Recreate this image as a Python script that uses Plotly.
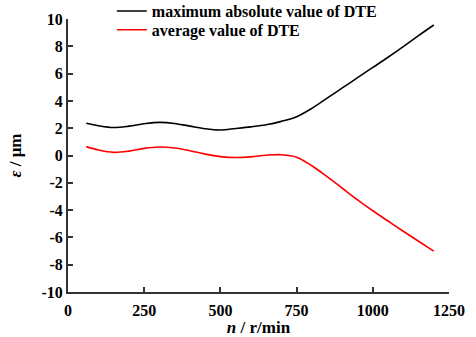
import plotly.graph_objects as go

speed = [60, 100, 150, 200, 250, 300, 350, 400, 450, 500, 550, 600, 650, 700,
         750, 800, 850, 900, 950, 1000, 1050, 1100, 1150, 1200]
dte_max = [2.36, 2.18, 2.05, 2.15, 2.33, 2.43, 2.35, 2.15, 1.96, 1.87, 1.98, 2.1,
           2.25, 2.5, 2.84, 3.45, 4.2, 4.95, 5.7, 6.45, 7.2, 7.98, 8.78, 9.56]
dte_avg = [0.65, 0.4, 0.23, 0.32, 0.52, 0.62, 0.55, 0.35, 0.1, -0.08, -0.15, -0.1,
           0.02, 0.06, -0.12, -0.75, -1.55, -2.4, -3.25, -4.05, -4.8, -5.55, -6.28, -7.0]
x_ticks = [0, 250, 500, 750, 1000, 1250]
y_ticks = [-10, -8, -6, -4, -2, 0, 2, 4, 6, 8, 10]

font = "Liberation Serif"

fig = go.Figure()
fig.add_trace(go.Scatter(x=speed, y=dte_max, mode="lines",
                         line=dict(color="black", width=1.6, shape="spline"),
                         name="<b>maximum absolute value of DTE</b>", legend="legend"))
fig.add_trace(go.Scatter(x=speed, y=dte_avg, mode="lines",
                         line=dict(color="red", width=1.6, shape="spline"),
                         name="<b>average value of DTE</b>", legend="legend2"))

axis_common = dict(showgrid=False, zeroline=False, showline=True, linecolor="#333",
                   linewidth=2, ticks="inside", ticklen=5, tickwidth=1.5, tickcolor="#333",
                   tickfont=dict(family=font, size=16, color="black"))

leg_common = dict(x=0.115, xanchor="left", yanchor="middle", bgcolor="rgba(0,0,0,0)",
                  font=dict(family=font, size=16), itemwidth=30)

fig.update_layout(
    width=476, height=337,
    margin=dict(l=68, r=27, t=19, b=45, autoexpand=False),
    plot_bgcolor="white", paper_bgcolor="white",
    font=dict(family=font, size=16, color="black"),
    showlegend=True,
    legend=dict(y=1.029, **leg_common),
    legend2=dict(y=0.96, **leg_common),
    xaxis=dict(range=[0, 1250], tickvals=x_ticks,
               ticktext=[f"<b>{v}</b>" for v in x_ticks], ticklabelstandoff=3,
               title=dict(text="<b><i>n</i> / r/min</b>", font=dict(family=font, size=17), standoff=4),
               **axis_common),
    yaxis=dict(range=[-10, 10], tickvals=y_ticks,
               ticktext=[f"<b>{v}</b>" for v in y_ticks],
               title=dict(text="<b><i>ε</i> / μm</b>", font=dict(family=font, size=17), standoff=16),
               **axis_common),
)

fig.write_html("out.html")
